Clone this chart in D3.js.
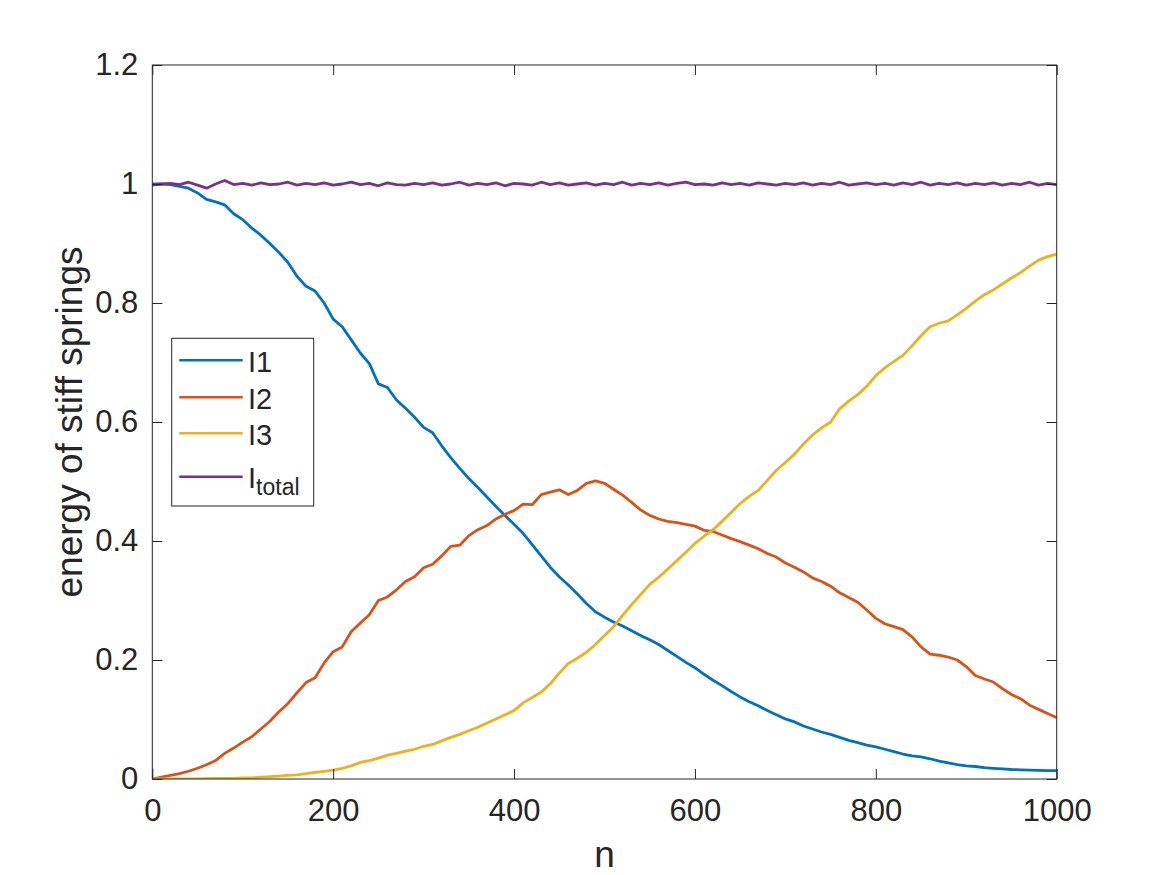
<!DOCTYPE html>
<html>
<head>
<meta charset="utf-8">
<script src="https://cdn.jsdelivr.net/npm/d3@7"></script>
<style>
  body { margin: 0; background: #fff; }
  text { font-family: "Liberation Sans", Arial, Helvetica, sans-serif; fill: #262626; }
</style>
</head>
<body>
<div id="chart"></div>
<script>
// n sampled every 10 steps
var nValues = d3.range(0, 1001, 10);

var i1Values = [
    1.000, 1.000, 0.999, 0.996, 0.993, 0.985, 0.974, 0.970, 0.965, 0.950,
    0.940, 0.926, 0.914, 0.900, 0.885, 0.868, 0.845, 0.828, 0.820, 0.800,
    0.773, 0.760, 0.738, 0.716, 0.698, 0.664, 0.658, 0.637, 0.623, 0.608,
    0.591, 0.582, 0.560, 0.540, 0.522, 0.505, 0.490, 0.474, 0.458, 0.443,
    0.428, 0.413, 0.394, 0.375, 0.356, 0.340, 0.326, 0.311, 0.295, 0.281,
    0.272, 0.264, 0.257, 0.249, 0.241, 0.234, 0.226, 0.216, 0.206, 0.196,
    0.187, 0.176, 0.166, 0.157, 0.147, 0.138, 0.130, 0.123, 0.115, 0.108,
    0.101, 0.096, 0.089, 0.084, 0.079, 0.075, 0.070, 0.065, 0.061, 0.057,
    0.054, 0.050, 0.046, 0.042, 0.039, 0.037, 0.034, 0.030, 0.027, 0.024,
    0.022, 0.021, 0.019, 0.018, 0.017, 0.016, 0.0155, 0.015, 0.0145, 0.014,
    0.014
];

var i2Values = [
    0.000, 0.003, 0.006, 0.009, 0.013, 0.018, 0.024, 0.031, 0.043, 0.052,
    0.062, 0.071, 0.084, 0.097, 0.113, 0.127, 0.145, 0.162, 0.170, 0.195,
    0.214, 0.222, 0.248, 0.262, 0.276, 0.300, 0.306, 0.318, 0.332, 0.340,
    0.355, 0.361, 0.375, 0.391, 0.393, 0.409, 0.419, 0.426, 0.437, 0.445,
    0.451, 0.462, 0.461, 0.478, 0.482, 0.486, 0.478, 0.485, 0.497, 0.501,
    0.497, 0.487, 0.477, 0.465, 0.452, 0.443, 0.437, 0.433, 0.431, 0.428,
    0.425, 0.418, 0.416, 0.410, 0.404, 0.399, 0.393, 0.387, 0.379, 0.373,
    0.363, 0.356, 0.348, 0.338, 0.332, 0.324, 0.313, 0.305, 0.297, 0.284,
    0.270, 0.261, 0.256, 0.251, 0.239, 0.222, 0.210, 0.208, 0.205, 0.200,
    0.189, 0.174, 0.168, 0.163, 0.152, 0.142, 0.135, 0.124, 0.117, 0.110,
    0.103
];

var i3Values = [
    0.000, 0.000, 0.000, 0.000, 0.000, 0.000, 0.0005, 0.001, 0.001, 0.001,
    0.002, 0.002, 0.003, 0.004, 0.005, 0.006, 0.007, 0.009, 0.011, 0.013,
    0.015, 0.018, 0.022, 0.028, 0.031, 0.035, 0.040, 0.043, 0.047, 0.050,
    0.055, 0.058, 0.064, 0.070, 0.075, 0.081, 0.087, 0.094, 0.101, 0.108,
    0.115, 0.128, 0.137, 0.146, 0.160, 0.178, 0.194, 0.203, 0.213, 0.226,
    0.241, 0.256, 0.275, 0.293, 0.310, 0.327, 0.339, 0.353, 0.367, 0.381,
    0.396, 0.408, 0.419, 0.433, 0.448, 0.463, 0.475, 0.485, 0.502, 0.519,
    0.532, 0.546, 0.563, 0.578, 0.590, 0.600, 0.622, 0.635, 0.646, 0.660,
    0.678, 0.691, 0.702, 0.712, 0.728, 0.745, 0.760, 0.766, 0.770, 0.780,
    0.791, 0.803, 0.814, 0.822, 0.832, 0.842, 0.851, 0.862, 0.872, 0.878,
    0.882
];

var iTotalValues = [
    0.998, 1.000, 1.001, 0.999, 1.003, 0.998, 0.993, 1.000, 1.006, 0.999,
    1.001, 0.998, 1.002, 0.999, 1.000, 1.003, 0.998, 1.001, 0.999, 1.002,
    0.998, 1.000, 1.003, 0.999, 1.001, 0.997, 1.002, 0.999, 0.998, 1.001,
    0.999, 1.002, 0.998, 1.000, 1.003, 0.998, 1.001, 0.999, 1.002, 0.997,
    1.001, 1.000, 0.998, 1.003, 0.999, 1.002, 0.998, 1.000, 1.002, 0.998,
    1.001, 0.999, 1.003, 0.998, 1.001, 0.999, 1.002, 0.998, 1.001, 1.003,
    0.999, 1.000, 0.998, 1.002, 0.999, 1.001, 0.998, 1.002, 1.000, 0.998,
    1.001, 0.999, 1.002, 0.998, 1.001, 0.999, 1.003, 0.998, 1.000, 1.002,
    0.999, 1.001, 0.998, 1.002, 0.999, 1.003, 0.998, 1.001, 0.999, 1.002,
    0.998, 1.001, 0.999, 1.002, 0.998, 1.001, 0.999, 1.003, 0.998, 1.001,
    0.999
];

var seriesNames = ["I1", "I2", "I3", "I_total"];
var seriesColors = ["#0072BD", "#D95319", "#EDB120", "#7E2F8E"];

var xTicks = [0, 200, 400, 600, 800, 1000];
var xTickLabels = ["0", "200", "400", "600", "800", "1000"];
var yTicks = [0, 0.2, 0.4, 0.6, 0.8, 1, 1.2];
var yTickLabels = ["0", "0.2", "0.4", "0.6", "0.8", "1", "1.2"];

// Set up the chart dimensions
var totalWidth = 1167, totalHeight = 875;
var margin = { top: 65, right: 110.3, bottom: 96, left: 152.3 };
const width = totalWidth - margin.left - margin.right;
const height = totalHeight - margin.top - margin.bottom;
var axisColor = "#262626";

var svgRoot = d3.select("#chart")
    .append("svg")
    .attr("width", totalWidth)
    .attr("height", totalHeight)
    .style("display", "block")
    .style("background", "#fff");

var svg = svgRoot.append("g")
    .attr("transform", "translate(" + margin.left + "," + margin.top + ")");

// Define scales
var xScale = d3.scaleLinear().domain([0, 1000]).range([0, width]);
var yScale = d3.scaleLinear().domain([0, 1.2]).range([height, 0]);

svg.append("clipPath").attr("id", "plotClip")
    .append("rect")
    .attr("x", 0).attr("y", 0)
    .attr("width", width).attr("height", height);

// Lines
var seriesValues = [i1Values, i2Values, i3Values, iTotalValues];
var line = d3.line()
    .x(function (d) { return xScale(d[0]); })
    .y(function (d) { return yScale(d[1]); });

var linesGroup = svg.append("g").attr("clip-path", "url(#plotClip)");
seriesValues.forEach(function (vals, i) {
    var pts = nValues.map(function (n, k) { return [n, vals[k]]; });
    linesGroup.append("path")
        .datum(pts)
        .attr("fill", "none")
        .attr("stroke", seriesColors[i])
        .attr("stroke-width", 2.8)
        .attr("stroke-linejoin", "round")
        .attr("d", line);
});

// Axes (MATLAB style: ticks pointing inward, box on)
function styleAxis(g) {
    g.select(".domain").remove();
    g.selectAll(".tick line").attr("stroke", axisColor).attr("stroke-width", 1);
    g.selectAll(".tick text")
        .style("font-family", '"Liberation Sans", Arial, Helvetica, sans-serif')
        .style("font-size", "31px")
        .attr("fill", axisColor);
}

svg.append("g")
    .attr("transform", "translate(0," + height + ")")
    .call(d3.axisBottom(xScale).tickValues(xTicks)
        .tickFormat(function (d, i) { return xTickLabels[i]; })
        .tickSizeInner(-10).tickSizeOuter(0).tickPadding(20))
    .call(styleAxis);

svg.append("g")
    .call(d3.axisTop(xScale).tickValues(xTicks).tickFormat("")
        .tickSizeInner(-10).tickSizeOuter(0))
    .call(styleAxis);

svg.append("g")
    .call(d3.axisLeft(yScale).tickValues(yTicks)
        .tickFormat(function (d, i) { return yTickLabels[i]; })
        .tickSizeInner(-10).tickSizeOuter(0).tickPadding(14))
    .call(styleAxis);

svg.append("g")
    .attr("transform", "translate(" + width + ",0)")
    .call(d3.axisRight(yScale).tickValues(yTicks).tickFormat("")
        .tickSizeInner(-10).tickSizeOuter(0))
    .call(styleAxis);

// Box
svg.append("rect")
    .attr("x", 0).attr("y", 0)
    .attr("width", width).attr("height", height)
    .attr("fill", "none")
    .attr("stroke", axisColor)
    .attr("stroke-width", 1);

// X-axis label
svg.append("text")
    .attr("x", width / 2)
    .attr("y", height + 87.7)
    .style("text-anchor", "middle")
    .style("font-size", "37px")
    .text("n");

// Y-axis label
svgRoot.append("text")
    .attr("transform", "translate(82," + (margin.top + height / 2) + ") rotate(-90)")
    .style("text-anchor", "middle")
    .style("font-size", "37px")
    .text("energy of stiff springs");

// Legend
var legend = svgRoot.append("g");
legend.append("rect")
    .attr("x", 171.7).attr("y", 338.3)
    .attr("width", 142).attr("height", 167.7)
    .attr("fill", "#fff")
    .attr("stroke", axisColor)
    .attr("stroke-width", 1);

var legendRows = [360.3, 397.3, 433.3, 476.7];
seriesNames.forEach(function (name, i) {
    var y = legendRows[i];
    legend.append("line")
        .attr("x1", 179.3).attr("x2", 242.7)
        .attr("y1", y).attr("y2", y)
        .attr("stroke", seriesColors[i])
        .attr("stroke-width", 2.6);
    var t = legend.append("text")
        .attr("x", 248)
        .attr("y", y + 11.2)
        .style("font-size", "29px");
    var parts = name.split("_");
    t.append("tspan").text(parts[0]);
    if (parts.length > 1) {
        t.append("tspan")
            .attr("dy", 7)
            .style("font-size", "23px")
            .text(parts[1]);
    }
});
</script>
</body>
</html>
